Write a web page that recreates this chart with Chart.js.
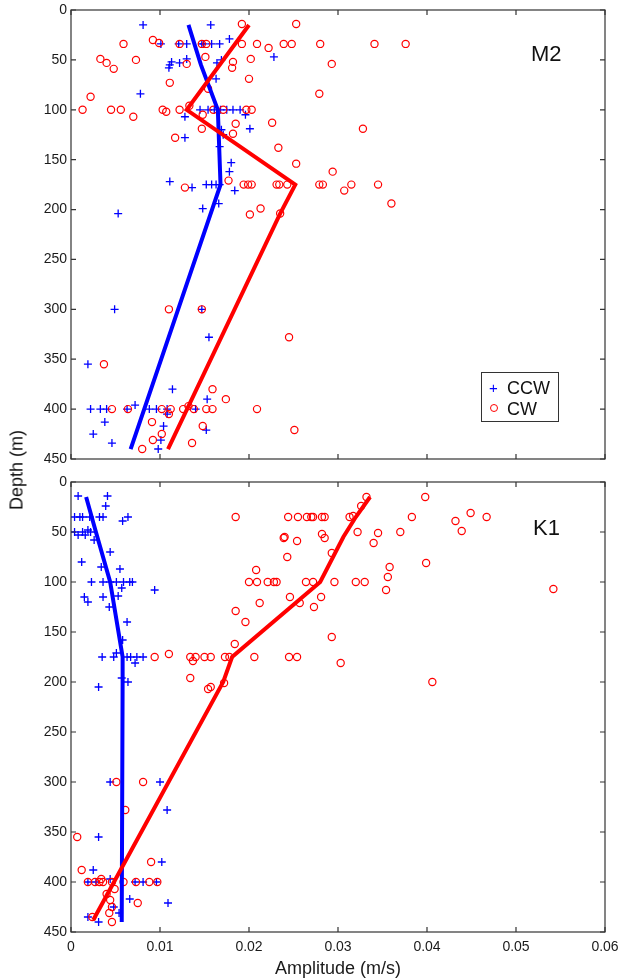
<!DOCTYPE html>
<html>
<head>
<meta charset="utf-8">
<script src="https://cdn.jsdelivr.net/npm/chart.js@4.4.1/dist/chart.umd.min.js"></script>
<style>
  body { margin: 0; background: #fff; font-family: "Liberation Sans", Arial, sans-serif; }
  #wrap { position: relative; width: 621px; height: 980px; overflow: hidden; }
  .panel { position: absolute; left: 0; }
  .tag { position: absolute; font-size: 22px; color: #111; line-height: 1; }
  #ylab { position: absolute; left: 17px; top: 470px; font-size: 18px; color: #111;
          transform: translate(-50%, -50%) rotate(-90deg); white-space: nowrap; }
  #legend { position: absolute; left: 481px; top: 372px; width: 76px; height: 48px;
            border: 1px solid #333; background: #fff; font-size: 18px; color: #111; }
  #legend div { position: absolute; left: 25px; line-height: 1; }
  .mk { position: absolute; }
</style>
</head>
<body>
<div id="wrap">
  <div class="panel" style="top:0"><canvas id="m2" width="621" height="470"></canvas></div>
  <div class="panel" style="top:470px"><canvas id="k1" width="621" height="510"></canvas></div>
  <div class="tag" style="left:531px;top:43px">M2</div>
  <div class="tag" style="left:533px;top:517px">K1</div>
  <div id="ylab">Depth (m)</div>
  <div id="legend">
    <span class="mk" style="left:7px;top:7px;color:#0000ff;font-size:15px;line-height:1">+</span>
    <div style="top:6px">CCW</div>
    <span class="mk" style="left:8px;top:31px;width:6px;height:6px;border:1.3px solid #ff0000;border-radius:50%"></span>
    <div style="top:27px">CW</div>
  </div>
</div>
<script>
/* ===================== EJES ===================== */
const xTicks = [0, 0.01, 0.02, 0.03, 0.04, 0.05, 0.06];
const depthTicks = [0, 50, 100, 150, 200, 250, 300, 350, 400, 450];

/* ===================== M2 ===================== */
const m2CcwAmp = [0.0081, 0.0157,
  0.0101, 0.0121, 0.0130, 0.0147, 0.0149, 0.0158, 0.0167, 0.0178,
  0.0113, 0.0111, 0.0110, 0.0122, 0.0130, 0.0164, 0.0169, 0.0228, 0.0163, 0.0078,
  0.0145, 0.0154, 0.0161, 0.0168, 0.0175, 0.0182, 0.0190, 0.0196,
  0.0128, 0.0201, 0.0169, 0.0171, 0.0128, 0.0167, 0.0180, 0.0178,
  0.0111, 0.0136, 0.0152, 0.0158, 0.0163, 0.0167, 0.0184, 0.0166, 0.0148, 0.0053,
  0.0049, 0.0147, 0.0155, 0.0019, 0.0114, 0.0153,
  0.0022, 0.0033, 0.0040, 0.0063, 0.0072, 0.0088, 0.0096, 0.0108, 0.0140,
  0.0108, 0.0038, 0.0025, 0.0046, 0.0104, 0.0101, 0.0098, 0.0152];
const m2CcwDepth = [15, 15,
  34, 34, 34, 34, 34, 34, 34, 29,
  52, 55, 58, 53, 49, 53, 50, 47, 69, 84,
  100, 100, 100, 100, 100, 100, 100, 105,
  107, 119, 120, 125, 128, 137, 153, 162,
  172, 178, 175, 175, 175, 175, 181, 194, 199, 204,
  300, 300, 328, 355, 380, 390,
  400, 400, 400, 400, 396, 400, 400, 400, 400,
  405, 413, 425, 434, 417, 431, 440, 421];

const m2CwAmp = [0.0192, 0.0253, 0.0092, 0.0099, 0.0059, 0.0122, 0.0147, 0.0152, 0.0192, 0.0209,
  0.0222, 0.0239, 0.0248, 0.0280, 0.0341, 0.0376,
  0.0293, 0.0033, 0.0040, 0.0048, 0.0073, 0.0130, 0.0151, 0.0182, 0.0181, 0.0202,
  0.0200, 0.0111, 0.0154, 0.0022, 0.0279,
  0.0013, 0.0045, 0.0056, 0.0103, 0.0107, 0.0122, 0.0133, 0.0148, 0.0160, 0.0171, 0.0197, 0.0203,
  0.0070, 0.0147, 0.0185, 0.0182, 0.0226, 0.0328, 0.0117, 0.0233, 0.0253, 0.0294, 0.0177,
  0.0128, 0.0194, 0.0199, 0.0203, 0.0231, 0.0234, 0.0243, 0.0279, 0.0283, 0.0315, 0.0307, 0.0345, 0.0360,
  0.0213, 0.0201, 0.0235,
  0.0110, 0.0147, 0.0245, 0.0037, 0.0159, 0.0174,
  0.0046, 0.0064, 0.0102, 0.0112, 0.0126, 0.0132, 0.0138, 0.0152, 0.0159, 0.0209,
  0.0110, 0.0091, 0.0102, 0.0148, 0.0251, 0.0092, 0.0136, 0.0080];
const m2CwDepth = [14, 14, 30, 33, 34, 34, 34, 34, 34, 34,
  38, 34, 34, 34, 34, 34,
  54, 49, 53, 59, 50, 54, 47, 52, 58, 49,
  69, 73, 79, 87, 84,
  100, 100, 100, 100, 102, 100, 96, 105, 100, 100, 100, 100,
  107, 119, 114, 124, 113, 119, 128, 138, 154, 162, 171,
  178, 175, 175, 175, 175, 175, 175, 175, 175, 175, 181, 175, 194,
  199, 205, 204,
  300, 300, 328, 355, 380, 390,
  400, 400, 400, 400, 400, 397, 400, 400, 400, 400,
  405, 413, 425, 417, 421, 431, 434, 440];

const m2CcwLineAmp = [0.0132, 0.0146, 0.0165, 0.0168, 0.0067];
const m2CcwLineDepth = [15, 55, 100, 175, 440];
const m2CwLineAmp = [0.0200, 0.0130, 0.0252, 0.0235, 0.0109];
const m2CwLineDepth = [15, 100, 175, 204, 440];

/* ===================== K1 ===================== */
const k1CcwAmp = [0.0008, 0.0041, 0.0039,
  0.0004, 0.0010, 0.0013, 0.0021, 0.0032, 0.0036, 0.0058, 0.0064,
  0.0004, 0.0008, 0.0013, 0.0016, 0.0019, 0.0022, 0.0026,
  0.0044, 0.0012, 0.0034, 0.0055,
  0.0023, 0.0036, 0.0044, 0.0051, 0.0059, 0.0066, 0.0069, 0.0057,
  0.0094, 0.0015, 0.0019, 0.0036, 0.0053, 0.0043, 0.0063, 0.0058,
  0.0035, 0.0048, 0.0051, 0.0063, 0.0067, 0.0074, 0.0081, 0.0072,
  0.0064, 0.0057, 0.0031,
  0.0044, 0.0100, 0.0108, 0.0031, 0.0102, 0.0025,
  0.0019, 0.0028, 0.0044, 0.0072, 0.0081, 0.0096,
  0.0066, 0.0109, 0.0048, 0.0019, 0.0031, 0.0054];
const k1CcwDepth = [14, 14, 24,
  35, 35, 35, 35, 35, 35, 39, 35,
  50, 53, 50, 53, 48, 50, 58,
  70, 80, 85, 87,
  100, 100, 100, 100, 100, 100, 100, 106,
  108, 115, 120, 115, 114, 125, 140, 158,
  175, 175, 171, 175, 175, 175, 175, 181,
  200, 196, 205,
  300, 300, 328, 355, 380, 388,
  400, 400, 397, 400, 400, 400,
  417, 421, 425, 435, 440, 431];

const k1CwAmp = [0.0185, 0.0244, 0.0255, 0.0265, 0.0270, 0.0272, 0.0282, 0.0285, 0.0313, 0.0317,
  0.0383, 0.0467, 0.0432, 0.0449, 0.0439, 0.0398, 0.0332, 0.0326,
  0.0239, 0.0240, 0.0254, 0.0282, 0.0285, 0.0322, 0.0345, 0.0340, 0.0370,
  0.0243, 0.0293, 0.0208, 0.0358, 0.0356, 0.0354, 0.0399, 0.0542,
  0.0200, 0.0209, 0.0221, 0.0228, 0.0231, 0.0264, 0.0272, 0.0296, 0.0320, 0.0330,
  0.0246, 0.0257, 0.0281, 0.0273, 0.0212, 0.0185, 0.0196, 0.0184, 0.0293, 0.0303,
  0.0094, 0.0110, 0.0134, 0.0137, 0.0140, 0.0150, 0.0157, 0.0173, 0.0178, 0.0206, 0.0245, 0.0254,
  0.0134, 0.0154, 0.0157, 0.0172, 0.0406,
  0.0051, 0.0081, 0.0061, 0.0007, 0.0090, 0.0012,
  0.0019, 0.0027, 0.0032, 0.0034, 0.0036, 0.0046, 0.0059, 0.0073, 0.0088, 0.0097,
  0.0049, 0.0040, 0.0044, 0.0075, 0.0046, 0.0043, 0.0024, 0.0046];
const k1CwDepth = [35, 35, 35, 35, 35, 35, 35, 35, 35, 34,
  35, 35, 39, 31, 49, 15, 15, 24,
  56, 55, 59, 52, 56, 50, 51, 61, 50,
  75, 71, 88, 85, 95, 108, 81, 107,
  100, 100, 100, 100, 100, 100, 100, 100, 100, 100,
  115, 121, 115, 125, 121, 129, 140, 162, 155, 181,
  175, 172, 175, 179, 175, 175, 175, 175, 175, 175, 175, 175,
  196, 207, 205, 201, 200,
  300, 300, 328, 355, 380, 388,
  400, 400, 400, 397, 400, 400, 400, 400, 400, 400,
  407, 412, 418, 421, 425, 431, 435, 440];

const k1CcwLineAmp = [0.0017, 0.0028, 0.0044, 0.0058, 0.0058, 0.0057];
const k1CcwLineDepth = [15, 50, 100, 175, 200, 440];
const k1CwLineAmp = [0.0336, 0.0320, 0.0306, 0.0280, 0.0181, 0.0171, 0.0025];
const k1CwLineDepth = [15, 35, 55, 100, 175, 200, 438];

/* ===================== UTIL ===================== */
const FONT = '"Liberation Sans", Arial, sans-serif';
Chart.defaults.font.family = FONT;
Chart.defaults.color = "#1a1a1a";

const pts = (amp, depth) => amp.map((a, i) => ({ x: a, y: depth[i] }));

// caja con ticks hacia adentro (estilo matlab)
const marco = {
  id: "marco",
  afterDraw(chart) {
    const { ctx, chartArea: a, scales } = chart;
    const x = scales.x, y = scales.y;
    ctx.save();
    ctx.strokeStyle = "#333";
    ctx.lineWidth = 1.2;
    ctx.strokeRect(a.left, a.top, a.right - a.left, a.bottom - a.top);
    ctx.beginPath();
    xTicks.forEach((v) => {
      const px = x.getPixelForValue(v);
      ctx.moveTo(px, a.bottom); ctx.lineTo(px, a.bottom - 5);
      ctx.moveTo(px, a.top); ctx.lineTo(px, a.top + 5);
    });
    depthTicks.forEach((v) => {
      const py = y.getPixelForValue(v);
      ctx.moveTo(a.left, py); ctx.lineTo(a.left + 5, py);
      ctx.moveTo(a.right, py); ctx.lineTo(a.right - 5, py);
    });
    ctx.stroke();
    ctx.restore();
  },
};

function crearPanel(id, d, conEjeX) {
  const datasets = [
    { data: pts(d.cwLineAmp, d.cwLineDepth), showLine: true, borderColor: "#ff0000",
      borderWidth: 4, pointRadius: 0, order: 0 },
    { data: pts(d.ccwLineAmp, d.ccwLineDepth), showLine: true, borderColor: "#0000ff",
      borderWidth: 4, pointRadius: 0, order: 1 },
    { data: pts(d.cwAmp, d.cwDepth), pointStyle: "circle", pointRadius: 3.6,
      borderColor: "#ff0000", backgroundColor: "rgba(0,0,0,0)", borderWidth: 1.2, order: 2 },
    { data: pts(d.ccwAmp, d.ccwDepth), pointStyle: "cross", pointRadius: 4,
      borderColor: "#0000ff", borderWidth: 1.3, order: 3 },
  ];

  const ejeX = conEjeX
    ? {
        type: "linear", min: 0, max: 0.06,
        grid: { display: false, drawTicks: false }, border: { display: false },
        afterBuildTicks: (s) => { s.ticks = xTicks.map((v) => ({ value: v })); },
        ticks: { padding: 7, font: { size: 14 }, callback: (v) => String(Number(v.toFixed(2))) },
        title: { display: true, text: "Amplitude (m/s)", font: { size: 18 }, padding: 0 },
        afterFit: (s) => { s.height = 48; s.paddingLeft = 0; s.paddingRight = 0; },
      }
    : { type: "linear", min: 0, max: 0.06, display: false };

  return new Chart(document.getElementById(id), {
    type: "scatter",
    data: { datasets },
    plugins: [marco],
    options: {
      responsive: false, animation: false, devicePixelRatio: 1,
      layout: { padding: conEjeX ? { top: 12, right: 16, bottom: 0, left: 0 }
                                 : { top: 10, right: 16, bottom: 11, left: 0 } },
      plugins: { legend: { display: false }, tooltip: { enabled: false } },
      scales: {
        x: ejeX,
        y: {
          type: "linear", min: 0, max: 450, reverse: true,
          grid: { display: false, drawTicks: false }, border: { display: false },
          afterBuildTicks: (s) => { s.ticks = depthTicks.map((v) => ({ value: v })); },
          ticks: { padding: 4, font: { size: 14 } },
          afterFit: (s) => { s.width = 71; s.paddingTop = 0; s.paddingBottom = 0; },
        },
      },
    },
  });
}

crearPanel("m2", {
  ccwAmp: m2CcwAmp, ccwDepth: m2CcwDepth, cwAmp: m2CwAmp, cwDepth: m2CwDepth,
  ccwLineAmp: m2CcwLineAmp, ccwLineDepth: m2CcwLineDepth,
  cwLineAmp: m2CwLineAmp, cwLineDepth: m2CwLineDepth,
}, false);

crearPanel("k1", {
  ccwAmp: k1CcwAmp, ccwDepth: k1CcwDepth, cwAmp: k1CwAmp, cwDepth: k1CwDepth,
  ccwLineAmp: k1CcwLineAmp, ccwLineDepth: k1CcwLineDepth,
  cwLineAmp: k1CwLineAmp, cwLineDepth: k1CwLineDepth,
}, true);
</script>
</body>
</html>
